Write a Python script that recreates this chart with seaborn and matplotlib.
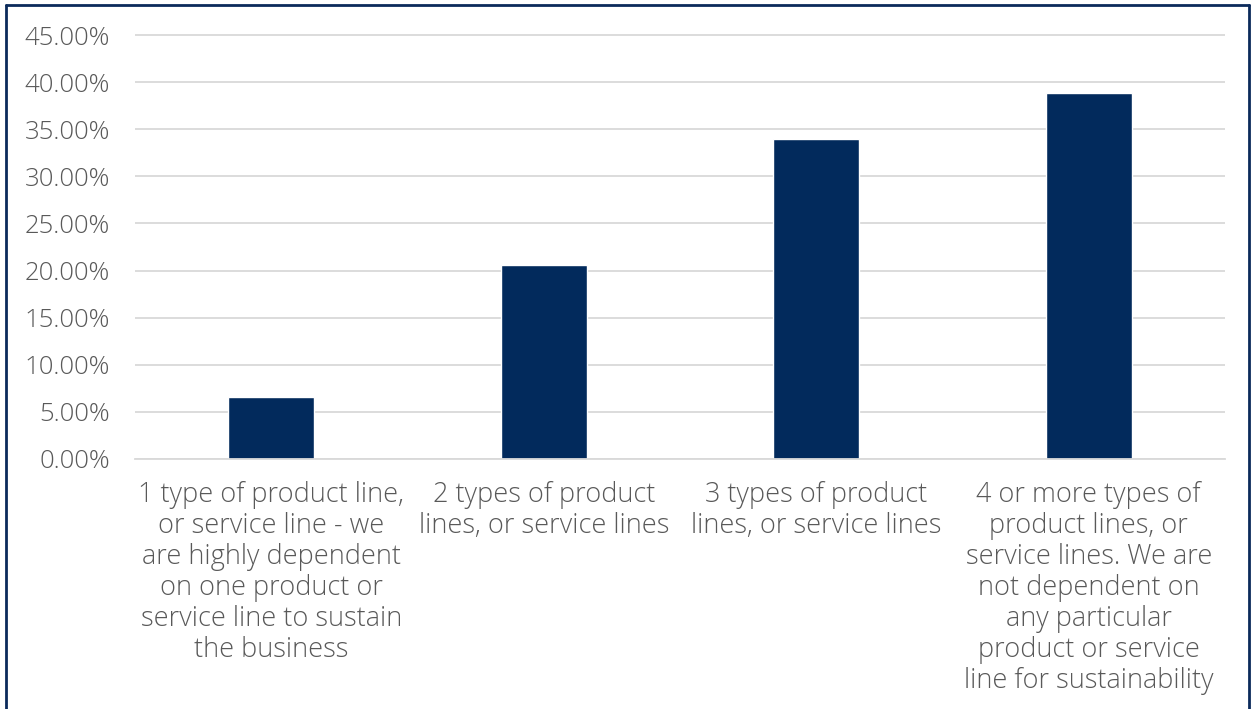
import numpy as np
import pandas as pd
import seaborn as sns
import matplotlib.pyplot as plt
from matplotlib.lines import Line2D

categories = [
    "1 type of product line,\nor service line - we\nare highly dependent\non one product or\nservice line to sustain\nthe business",
    "2 types of product\nlines, or service lines",
    "3 types of product\nlines, or service lines",
    "4 or more types of\nproduct lines, or\nservice lines. We are\nnot dependent on\nany particular\nproduct or service\nline for sustainability",
]
shares = [6.6, 20.6, 34.0, 38.85]
yticks = [0, 5, 10, 15, 20, 25, 30, 35, 40, 45]

df = pd.DataFrame({"cat": categories, "share": shares})

sns.set_style("white")
plt.rcParams["font.family"] = ["Open Sans", "DejaVu Sans"]

fig = plt.figure(figsize=(12.55, 7.09), dpi=100)
ax = fig.add_axes([135 / 1255, 1 - 459 / 709, (1225 - 135) / 1255, (459 - 35) / 709 * 46 / 45])

sns.barplot(data=df, x="cat", y="share", color="#022A5C", width=0.315,
            saturation=1, ax=ax)

ax.set_ylim(0, 46)
ax.set_xlim(-0.5, 3.5)
ax.set_yticks(yticks)
ax.set_yticklabels([f"{v:.2f}%" for v in yticks])
ax.yaxis.grid(True, color="#D9D9D9", linewidth=1.3)
ax.set_axisbelow(True)
for s in ["top", "right", "left"]:
    ax.spines[s].set_visible(False)
ax.spines["bottom"].set_color("#D9D9D9")
ax.spines["bottom"].set_linewidth(1.3)
ax.set_xlabel("")
ax.set_ylabel("")
ax.tick_params(axis="y", length=0, labelsize=18.5, labelcolor="#595959", pad=18)
ax.tick_params(axis="x", length=0, labelsize=19.5, labelcolor="#595959", pad=16)
for lbl in ax.get_xticklabels():
    lbl.set_linespacing(1.14)
    lbl.set_fontweight("light")

for lbl in ax.get_yticklabels():
    lbl.set_fontweight("light")

# outer frame (left, top, right)
frame_col = "#0B2A5B"
for xs, ys in [([6 / 1255, 6 / 1255], [0, 1 - 5 / 709]),
               ([6 / 1255, 1249 / 1255], [1 - 5 / 709, 1 - 5 / 709]),
               ([1249 / 1255, 1249 / 1255], [1 - 5 / 709, 0])]:
    fig.add_artist(Line2D(xs, ys, transform=fig.transFigure, color=frame_col, linewidth=2))

fig.savefig("out.png", dpi=100)
